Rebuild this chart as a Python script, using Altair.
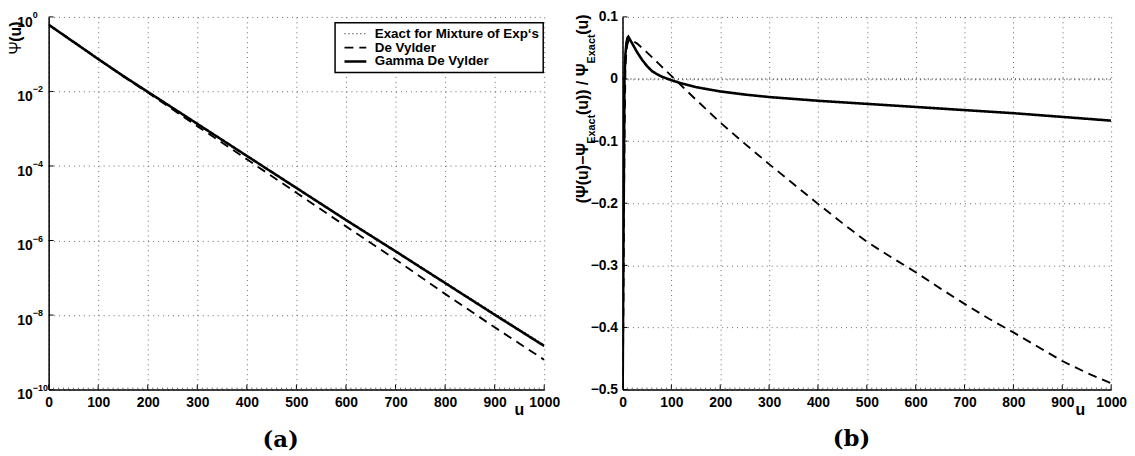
import altair as alt
import pandas as pd

# ---------------- data ----------------
series_names = ["Exact for Mixture of Exp‘s", "De Vylder", "Gamma De Vylder"]

# panel (a): ruin probability Psi(u), log scale
u_a = [0, 50, 100, 150, 200, 300, 400, 500, 600, 700, 800, 900, 1000]
psi_exact = [0.617, 0.209, 0.0741, 0.0269, 0.0100, 1.38e-3, 1.91e-4, 2.63e-5,
             3.72e-6, 5.37e-7, 7.59e-8, 1.10e-8, 1.58e-9]
psi_devylder = [0.617, 0.219, 0.0741, 0.0257, 9.33e-3, 1.17e-3, 1.51e-4, 1.91e-5,
                2.40e-6, 3.10e-7, 3.70e-8, 4.70e-9, 6.30e-10]
psi_gamma = [0.617, 0.214, 0.0741, 0.0263, 9.77e-3, 1.35e-3, 1.86e-4, 2.57e-5,
             3.55e-6, 5.13e-7, 7.24e-8, 1.02e-8, 1.48e-9]

# panel (b): relative error
u_b_exact = [0, 1000]
err_exact = [0.0, 0.0]
u_b_dv = [0, 2, 4, 6, 8, 10, 13, 16, 20, 30, 50, 75, 100, 125, 150, 200, 250, 300,
          350, 400, 450, 500, 550, 600, 650, 700, 750, 800, 850, 900, 950, 1000]
err_dv = [-0.55, -0.35, -0.10, 0.02, 0.045, 0.056, 0.062, 0.063, 0.062, 0.057, 0.043,
          0.024, 0.005, -0.014, -0.033, -0.070, -0.104, -0.137, -0.169, -0.201,
          -0.232, -0.262, -0.287, -0.311, -0.337, -0.362, -0.386, -0.408, -0.431,
          -0.454, -0.473, -0.490]
u_b_g = [0, 2, 4, 6, 8, 10, 12, 15, 20, 25, 30, 40, 50, 60, 70, 80, 90, 100, 125, 150,
         200, 250, 300, 400, 500, 600, 700, 800, 900, 1000]
err_g = [-0.55, -0.25, 0.0, 0.04, 0.058, 0.066, 0.068, 0.064, 0.057, 0.050, 0.043,
         0.031, 0.021, 0.013, 0.008, 0.004, 0.001, -0.002, -0.008, -0.013, -0.020,
         -0.025, -0.029, -0.035, -0.040, -0.045, -0.050, -0.055, -0.061, -0.067]

# ticks
x_ticks = [0, 100, 200, 300, 400, 500, 600, 700, 800, 900, 1000]
x_minor = list(range(0, 1001, 10))
y_ticks_a = [1, 1e-2, 1e-4, 1e-6, 1e-8, 1e-10]
y_exp_a = ["0", "−2", "−4", "−6", "−8", "−10"]
y_ticks_b = [0.1, 0.0, -0.1, -0.2, -0.3, -0.4, -0.5]

# ---------------- tables ----------------
df_a = pd.concat([
    pd.DataFrame({"u": u_a, "psi": psi_exact, "series": series_names[0]}),
    pd.DataFrame({"u": u_a, "psi": psi_devylder, "series": series_names[1]}),
    pd.DataFrame({"u": u_a, "psi": psi_gamma, "series": series_names[2]}),
], ignore_index=True)
df_b = pd.concat([
    pd.DataFrame({"u": u_b_exact, "psi": err_exact, "series": series_names[0]}),
    pd.DataFrame({"u": u_b_dv, "psi": err_dv, "series": series_names[1]}),
    pd.DataFrame({"u": u_b_g, "psi": err_g, "series": series_names[2]}),
], ignore_index=True)

FONT = "Liberation Sans"
SERIF = "DejaVu Serif"
LW, RW, H = 500, 493, 376
GRID = dict(grid=True, gridColor="#666666", gridDash=[1, 4], gridWidth=1)

dash_scale = alt.Scale(domain=series_names, range=[[1, 3], [9, 6], [1, 0]])
width_scale = alt.Scale(domain=series_names, range=[1.2, 2.6, 2.6])


def legend(x, y):
    return alt.Legend(title=None, orient="none", legendX=x, legendY=y,
                      direction="vertical", fillColor="white", strokeColor="black",
                      padding=4, symbolType="stroke", symbolSize=484,
                      symbolStrokeColor="black", clipHeight=14, rowPadding=0,
                      symbolOffset=4, labelOffset=7, labelFont=FONT, labelFontSize=13.5,
                      labelFontWeight="bold", labelColor="black", labelLimit=400)


def x_axis():
    return alt.Axis(values=x_ticks, title=None, format="d", labelFont=FONT, labelFontSize=14,
                    labelFontWeight="bold", labelColor="black", labelPadding=6,
                    ticks=False, tickSize=0, domainColor="black", domainWidth=1.5,
                    labelFlush=False, labelOverlap=False, **GRID)


def text_layer(txt, x, y, size=16, angle=0, align="left", font=FONT, weight="bold"):
    return alt.Chart(pd.DataFrame({"t": [txt]})).mark_text(
        angle=angle, align=align, baseline="middle", font=font, fontSize=size,
        fontWeight=weight, color="black").encode(
        x=alt.value(x), y=alt.value(y), text="t:N")


def x_tick_layers():
    major = alt.Chart(pd.DataFrame({"u": x_ticks})).mark_rule(
        color="black", strokeWidth=1).encode(
        x="u:Q", y=alt.value(H), y2=alt.value(H - 5))
    minor = alt.Chart(pd.DataFrame({"u": x_minor})).mark_rule(
        color="#444444", strokeWidth=0.8).encode(
        x="u:Q", y=alt.value(H), y2=alt.value(H - 2))
    return [major, minor]


# ---------------- panel (a) ----------------
lines_a = alt.Chart(df_a).mark_line(clip=True, color="black").encode(
    x=alt.X("u:Q", scale=alt.Scale(domain=[0, 1000], nice=False, zero=False), axis=x_axis()),
    y=alt.Y("psi:Q", scale=alt.Scale(type="log", domain=[1e-10, 1], nice=False),
            axis=alt.Axis(values=y_ticks_a, labels=False, ticks=False, tickSize=0,
                          title=None, domainColor="black", domainWidth=1.5, **GRID)),
    strokeDash=alt.StrokeDash("series:N", scale=dash_scale, legend=legend(289, 6)),
    strokeWidth=alt.StrokeWidth("series:N", scale=width_scale, legend=legend(289, 6)),
)

ylab_df = pd.DataFrame({"psi": y_ticks_a, "exp": y_exp_a, "base": ["10"] * len(y_ticks_a)})
ybase_a = alt.Chart(ylab_df).mark_text(align="right", baseline="middle", dy=6, font=FONT,
                                       fontSize=14, fontWeight="bold", color="black").encode(
    x=alt.value(-16), y="psi:Q", text="base:N")
yexp_a = alt.Chart(ylab_df).mark_text(align="left", baseline="middle", dy=-2, font=FONT,
                                      fontSize=9, fontWeight="bold", color="black").encode(
    x=alt.value(-16), y="psi:Q", text="exp:N")
ytick_a = alt.Chart(pd.DataFrame({"psi": y_ticks_a})).mark_rule(color="black").encode(
    y="psi:Q", x=alt.value(0), x2=alt.value(5))

left = alt.layer(
    lines_a, ybase_a, yexp_a, ytick_a, *x_tick_layers(),
    text_layer("Ψ", -33, 38, angle=270, weight="normal"),
    text_layer("(u)", -33, 25, angle=270),
    text_layer("u", 475, 397, align="center"),
    text_layer("(a)", 234, 427, size=23, align="center", font=SERIF),
).properties(width=LW, height=H)

# ---------------- panel (b) ----------------
lines_b = alt.Chart(df_b).mark_line(clip=True, color="black").encode(
    x=alt.X("u:Q", scale=alt.Scale(domain=[0, 1000], nice=False, zero=False), axis=x_axis()),
    y=alt.Y("psi:Q", scale=alt.Scale(domain=[-0.5, 0.1], nice=False, zero=False),
            axis=alt.Axis(values=y_ticks_b, title=None, ticks=False, tickSize=0,
                          labelExpr="datum.value == 0 ? '0' : format(datum.value, '.1f')",
                          labelFont=FONT, labelFontSize=14, labelFontWeight="bold",
                          labelColor="black", labelPadding=5, labelFlush=False,
                          labelOverlap=False, domainColor="black", domainWidth=1.5, **GRID)),
    strokeDash=alt.StrokeDash("series:N", scale=dash_scale, legend=legend(6, 321)),
    strokeWidth=alt.StrokeWidth("series:N", scale=width_scale, legend=legend(6, 321)),
)
ytick_b = alt.Chart(pd.DataFrame({"psi": y_ticks_b})).mark_rule(color="black").encode(
    y="psi:Q", x=alt.value(0), x2=alt.value(5))

right = alt.layer(
    lines_b, ytick_b, *x_tick_layers(),
    text_layer("(Ψ(u)−Ψ", -40, 188, angle=270),
    text_layer("Exact", -31, 128, size=11, angle=270),
    text_layer("(u)) / Ψ", -40, 99, angle=270),
    text_layer("Exact", -31, 47, size=11, angle=270),
    text_layer("(u)", -40, 18, angle=270),
    text_layer("u", 462, 397, align="center"),
    text_layer("(b)", 231, 426, size=23, align="center", font=SERIF),
).properties(width=RW, height=H)

chart = alt.hconcat(left, right, spacing=79, bounds="flush").properties(
    padding={"left": 0, "top": 0, "right": 0, "bottom": 0}
).configure(font=FONT).configure_view(stroke=None).configure_legend(strokeWidth=1.5)

chart.save("out.html", embed_options={"renderer": "svg", "actions": False})
